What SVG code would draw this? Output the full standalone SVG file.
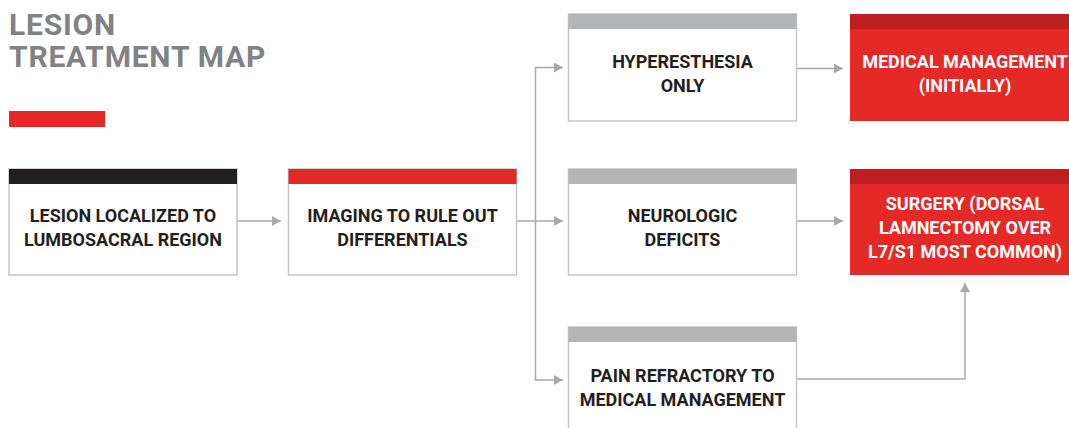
<svg xmlns="http://www.w3.org/2000/svg" width="1069" height="428" viewBox="0 0 1069 428">
<defs>
<style>
.box{fill:#ffffff;stroke:#c4c5c7;stroke-width:1.5}
.bar-gray{fill:#b2b4b6}
.bar-black{fill:#231f20}
.bar-red{fill:#e42926}
.red{fill:#e42926}
.bar-dred{fill:#bd1f22}
.t{font-family:Roboto,"Liberation Sans",sans-serif;font-weight:700;font-size:18px;fill:#231f20;text-anchor:middle}
.tw{fill:#ffffff}
.title{font-family:Roboto,"Liberation Sans",sans-serif;font-weight:700;font-size:30px;letter-spacing:0.8px;fill:#808285}
.conn{fill:none;stroke:#a7a9ac;stroke-width:1.5}
</style>
<marker id="arr" markerUnits="userSpaceOnUse" markerWidth="10" markerHeight="10" refX="9" refY="5" orient="auto">
<path d="M0,0 L9,5 L0,10 Z" fill="#a7a9ac"/>
</marker>
</defs>

<g id="title">
<text class="title" x="9" y="35">LESION</text>
<text class="title" x="9" y="67">TREATMENT MAP</text>
<rect x="9" y="111" width="96" height="16" fill="#e42926"/>
</g>

<g id="connectors">
<path class="conn" d="M237,221 H281" marker-end="url(#arr)"/>
<path class="conn" d="M516,221 H563" marker-end="url(#arr)"/>
<path class="conn" d="M535.5,221 V67.5 H563" marker-end="url(#arr)"/>
<path class="conn" d="M535.5,221 V380 H563" marker-end="url(#arr)"/>
<path class="conn" d="M797,68.5 H843" marker-end="url(#arr)"/>
<path class="conn" d="M797,221 H843" marker-end="url(#arr)"/>
<path class="conn" d="M797,379 H965 V283" marker-end="url(#arr)"/>
</g>

<g id="node-lesion">
<rect class="box" x="9" y="169" width="228" height="106"/>
<rect class="bar-black" x="9" y="169" width="228" height="15"/>
<text class="t" x="123" y="222">LESION LOCALIZED TO</text>
<text class="t" x="123" y="246">LUMBOSACRAL REGION</text>
</g>

<g id="node-imaging">
<rect class="box" x="288.5" y="169" width="228" height="106"/>
<rect class="bar-red" x="288.5" y="169" width="228" height="15"/>
<text class="t" x="402.5" y="222">IMAGING TO RULE OUT</text>
<text class="t" x="402.5" y="246">DIFFERENTIALS</text>
</g>

<g id="node-hyperesthesia">
<rect class="box" x="568.5" y="14" width="228" height="107"/>
<rect class="bar-gray" x="568.5" y="14" width="228" height="15"/>
<text class="t" x="682.5" y="68">HYPERESTHESIA</text>
<text class="t" x="682.5" y="92">ONLY</text>
</g>

<g id="node-neurologic">
<rect class="box" x="568.5" y="169" width="228" height="106"/>
<rect class="bar-gray" x="568.5" y="169" width="228" height="15"/>
<text class="t" x="682.5" y="222">NEUROLOGIC</text>
<text class="t" x="682.5" y="246">DEFICITS</text>
</g>

<g id="node-pain">
<rect class="box" x="568.5" y="327" width="228" height="110"/>
<rect class="bar-gray" x="568.5" y="327" width="228" height="15"/>
<text class="t" x="682.5" y="382">PAIN REFRACTORY TO</text>
<text class="t" x="682.5" y="406">MEDICAL MANAGEMENT</text>
</g>

<g id="node-medical">
<rect class="red" x="850" y="14" width="229" height="107"/>
<rect class="bar-dred" x="850" y="14" width="229" height="15"/>
<text class="t tw" x="965" y="68">MEDICAL MANAGEMENT</text>
<text class="t tw" x="965" y="92">(INITIALLY)</text>
</g>

<g id="node-surgery">
<rect class="red" x="850" y="169" width="229" height="106"/>
<rect class="bar-dred" x="850" y="169" width="229" height="15"/>
<text class="t tw" x="965" y="210">SURGERY (DORSAL</text>
<text class="t tw" x="965" y="234">LAMNECTOMY OVER</text>
<text class="t tw" x="965" y="258">L7/S1 MOST COMMON)</text>
</g>
</svg>
